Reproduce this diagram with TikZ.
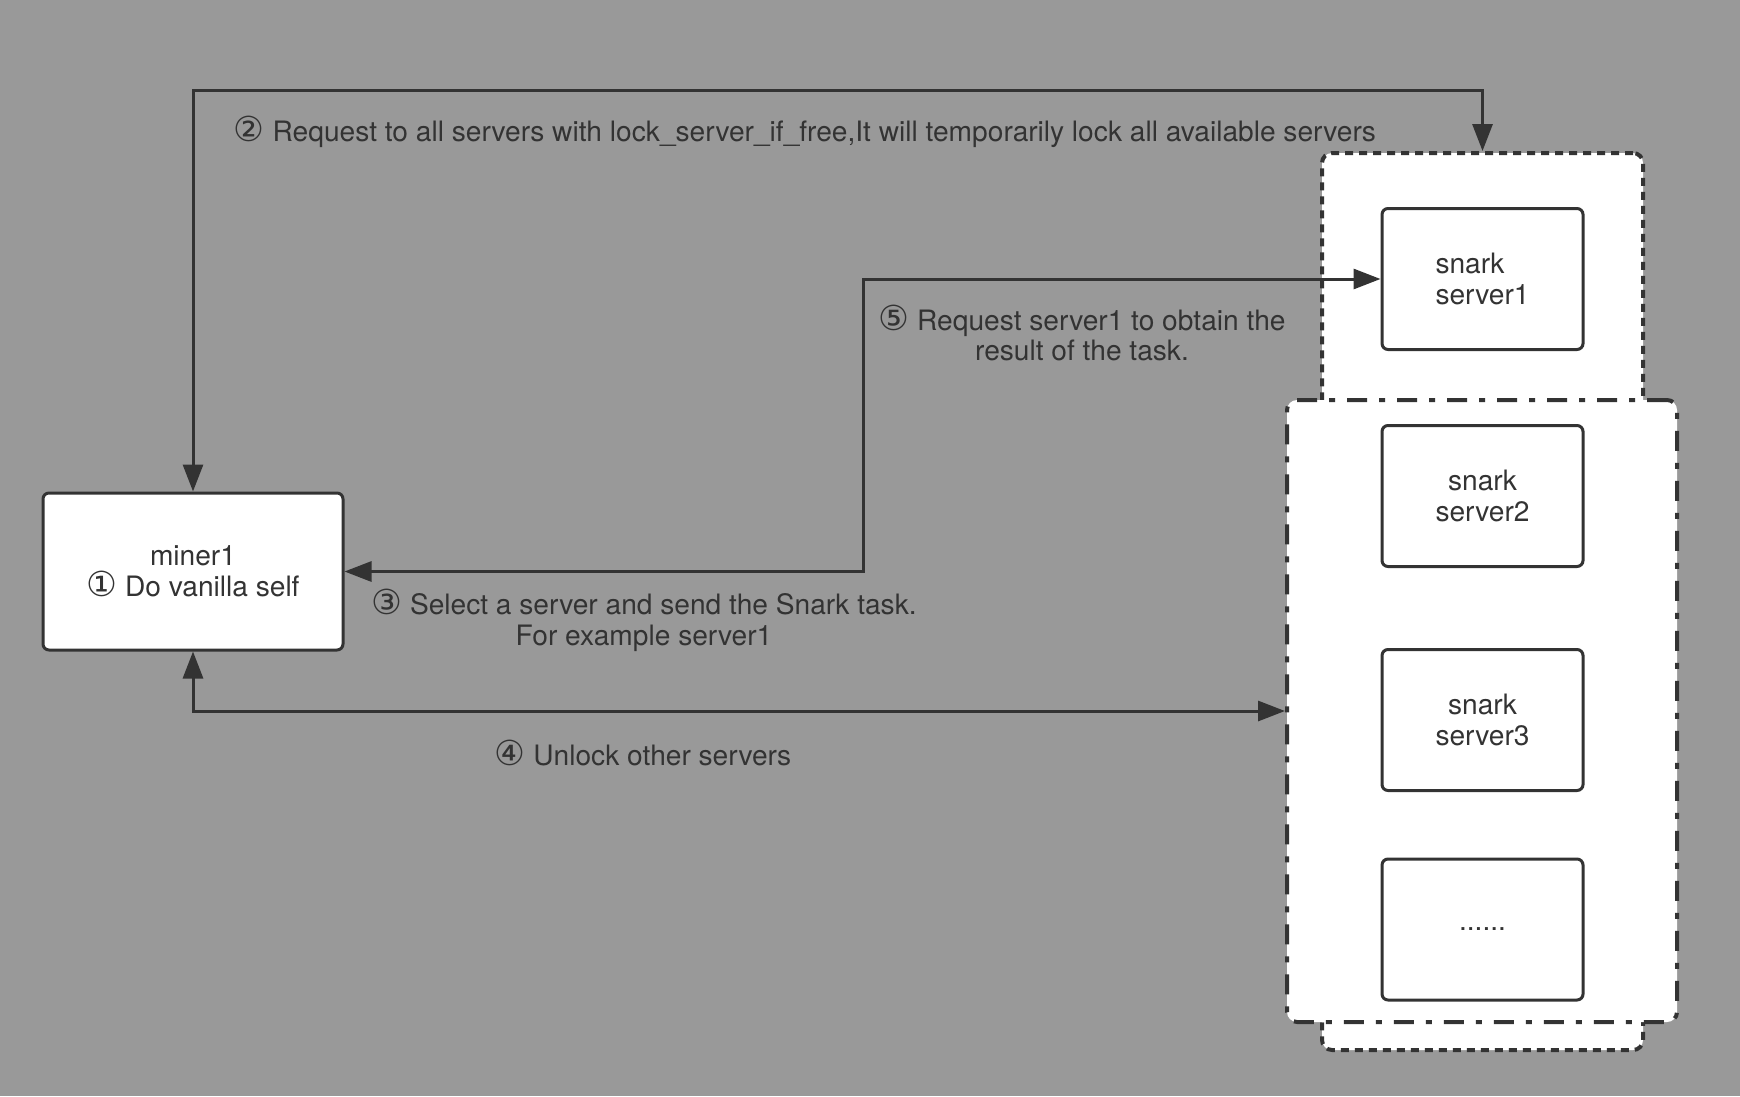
\documentclass[tikz,border=0pt]{standalone}
\usepackage{fontspec}
\setmainfont{TeX Gyre Heros}
\newfontfamily\circfont{DejaVu Sans}
\usetikzlibrary{arrows.meta}
\definecolor{bggray}{RGB}{153,153,153}
\definecolor{ink}{RGB}{51,51,51}
\newcommand{\circnum}[1]{{\circfont\fontsize{9.8}{8.8}\selectfont #1}}

\tikzset{
	box/.style={draw=ink, fill=white, line width=0.3mm, rounded corners=0.6mm, minimum width=20.1mm, minimum height=14.1mm, text=ink, align=center, inner sep=0pt},
	note/.style={text=ink, align=center, inner sep=0pt},
	link/.style={draw=ink, line width=0.3mm, {Triangle[length=2.7mm,width=2mm]}-{Triangle[length=2.7mm,width=2mm]}},
	dotgroup/.style={draw=ink, fill=white, line width=0.4mm, rounded corners=1mm, dash pattern=on 0.8mm off 0.6mm},
	dashdotgroup/.style={draw=ink, fill=white, line width=0.4mm, rounded corners=1mm, dash pattern=on 2mm off 1.2mm on 0.6mm off 1.2mm}
}

\begin{document}
\begin{tikzpicture}[x=0.1mm, y=-0.1mm, font=\fontsize{8}{8.8}\selectfont]
			%%%%% START %%%%%
			
			\fill[bggray] (0, 0) rectangle (1740, 1096);
			
			% server groups
			\node[dotgroup, minimum width=32.1mm, minimum height=89.7mm] (grpA) at (1482.5, 601.5) {};
			\node[dashdotgroup, minimum width=39mm, minimum height=62.2mm] (grpB) at (1482, 711) {};
			
			\node[box, minimum width=30mm, minimum height=15.7mm] (miner) at (193, 571.5) {miner1\\\circnum{①} Do vanilla self};
			
			\node[box, align=left] (server1) at (1482.5, 279) {snark\\server1};
			\node[box] (server2) at (1482.5, 496) {snark\\server2};
			\node[box] (server3) at (1482.5, 720) {snark\\server3};
			\node[box] (more) at (1482.5, 929.5) {......};
			
			\coordinate (top) at (0, 91);
			\coordinate (bend) at (863, 0);
			
			\draw[link] (miner.north) -- (miner.north |- top) -- (grpA.north |- top) -- (grpA.north);
			\draw[link] (server1.west) -- (bend |- server1.west) -- (bend |- miner.east) -- (miner.east);
			\draw[link] (miner.south) |- (grpB.west);
			
			\node[note] (lock) at (805, 132) {\circnum{②} Request to all servers with lock\_server\_if\_free,It will temporarily lock all available servers};
			\node[note] (fetch) at (1082, 333) {\circnum{⑤} Request server1 to obtain the\\result of the task.};
			\node[note] (select) at (644, 620) {\circnum{③} Select a server and send the Snark task.\\For example server1};
			\node[note] (unlock) at (643, 753) {\circnum{④} Unlock other servers};
			
			%%%%% END %%%%%
\end{tikzpicture}
\end{document}
